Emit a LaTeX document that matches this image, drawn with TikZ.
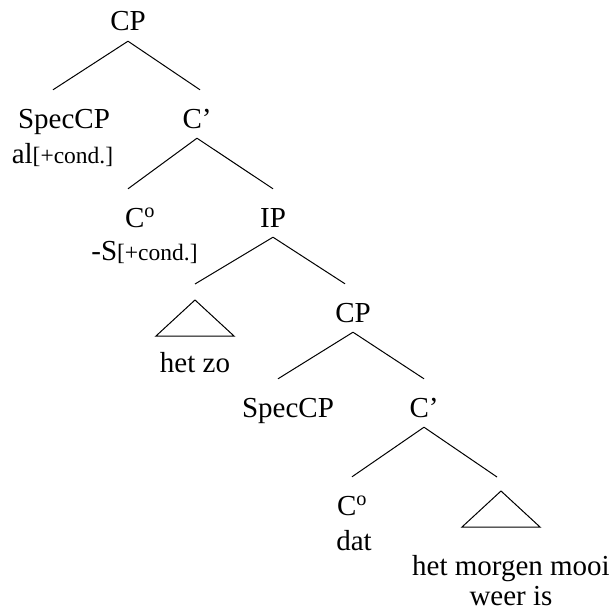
\documentclass[tikz,border=0pt]{standalone}
\usepackage{fontspec}
\setmainfont{Liberation Serif}
\newcommand{\treefont}{\fontsize{29pt}{30pt}\selectfont}
\newcommand{\cond}{{\fontsize{23.5pt}{25pt}\selectfont[+cond.]}}
\begin{document}
\begin{tikzpicture}[x=1pt,y=-1pt]
\tikzstyle{cat} = [inner sep=0pt, text height=38pt, text depth=10pt, anchor=base, font=\treefont];
\tikzstyle{word} = [inner sep=0pt, anchor=base, font=\treefont];
\tikzstyle{branch} = [line width=1pt];
\useasboundingbox (0,0) rectangle (613,610);

% upper CP
\node[cat] (cp-0) at (128,31) {CP};
\node[cat] (spec-0) at (64,128) {SpecCP};
\node[word] (al) at (62.5,163) {al\cond};
\node[cat] (cbar-0) at (197,128) {C'};
\node[cat] (c-0) at (140,227) {C\textsuperscript{o}};
\node[word] (s) at (144.5,260) {-S\cond};
\node[cat] (ip) at (273,227) {IP};

% het zo
\coordinate (tri-1) at (195,300);
\draw[branch] (tri-1) -- ++(-39,36) -- ++(78,0) -- cycle;
\node[word] (hetzo) at (195,372) {het zo};

% lower CP
\node[cat] (cp-1) at (353,322) {CP};
\node[cat] (spec-1) at (288,417) {SpecCP};
\node[cat] (cbar-1) at (424,417) {C'};
\node[cat] (c-1) at (352,515) {C\textsuperscript{o}};
\node[word] (dat) at (354,550) {dat};
\coordinate (tri-2) at (501,491);
\draw[branch] (tri-2) -- ++(-39,36) -- ++(78,0) -- cycle;
\node[word] (leaf-1) at (511,575) {het morgen mooi};
\node[word] (leaf-2) at (511,605) {weer is};

\draw[branch] (cp-0.south) -- ([xshift=-11pt]spec-0.north);
\draw[branch] (cp-0.south) -- ([xshift=3pt]cbar-0.north);
\draw[branch] (cbar-0.south) -- ([xshift=-12pt]c-0.north);
\draw[branch] (cbar-0.south) -- (ip.north);
\draw[branch] (ip.south) -- ([yshift=16pt]tri-1);
\draw[branch] (ip.south) -- ([xshift=-8pt]cp-1.north);
\draw[branch] (cp-1.south) -- ([xshift=-10pt]spec-1.north);
\draw[branch] (cp-1.south) -- (cbar-1.north);
\draw[branch] (cbar-1.south) -- (c-1.north);
\draw[branch] (cbar-1.south) -- ([xshift=-4pt,yshift=14pt]tri-2);
\end{tikzpicture}
\end{document}
